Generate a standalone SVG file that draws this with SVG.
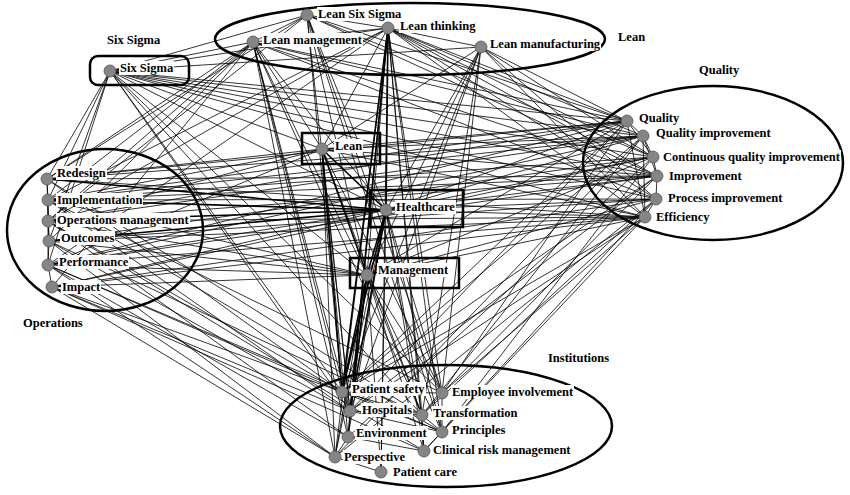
<svg xmlns="http://www.w3.org/2000/svg" width="850" height="495" viewBox="0 0 850 495">
<style>
.e line{stroke:#000;stroke-width:0.8;fill:none}
.e line.t{stroke-width:1.6}
.grp{fill:none;stroke:#000;stroke-width:2.5}
.nd{fill:#858585;stroke:#555;stroke-width:0.8}
.lb{fill:#fff;stroke:none}
text{font-family:"Liberation Serif","Times New Roman",serif;font-weight:bold;font-size:12.5px;fill:#000}
</style>
<rect width="850" height="495" fill="#fff"/>
<g id="connectors" class="e">
<line x1="47" y1="179" x2="48" y2="200"/>
<line x1="48" y1="200" x2="48" y2="221"/>
<line x1="48" y1="221" x2="49" y2="241"/>
<line x1="49" y1="241" x2="48" y2="265"/>
<line x1="48" y1="265" x2="52" y2="287"/>
<line x1="47" y1="179" x2="48" y2="221"/>
<line x1="48" y1="200" x2="49" y2="241"/>
<line x1="48" y1="221" x2="48" y2="265"/>
<line x1="627" y1="121" x2="643" y2="136"/>
<line x1="643" y1="136" x2="653" y2="157"/>
<line x1="653" y1="157" x2="657" y2="176"/>
<line x1="657" y1="176" x2="656" y2="199"/>
<line x1="656" y1="199" x2="645" y2="217"/>
<line x1="627" y1="121" x2="653" y2="157"/>
<line x1="643" y1="136" x2="657" y2="176"/>
<line x1="643" y1="136" x2="645" y2="217"/>
<line x1="627" y1="121" x2="645" y2="217"/>
<line x1="342" y1="392" x2="350" y2="411"/>
<line x1="350" y1="411" x2="348" y2="437"/>
<line x1="348" y1="437" x2="335" y2="457"/>
<line x1="335" y1="457" x2="381" y2="472"/>
<line x1="342" y1="392" x2="442" y2="393"/>
<line x1="442" y1="393" x2="422" y2="415"/>
<line x1="422" y1="415" x2="442" y2="432"/>
<line x1="442" y1="432" x2="424" y2="451"/>
<line x1="350" y1="411" x2="422" y2="415"/>
<line x1="350" y1="411" x2="442" y2="432"/>
<line x1="348" y1="437" x2="424" y2="451"/>
<line x1="342" y1="392" x2="422" y2="415"/>
<line x1="442" y1="393" x2="442" y2="432"/>
<line x1="422" y1="415" x2="424" y2="451"/>
<line x1="342" y1="392" x2="442" y2="432"/>
<line x1="322" y1="149" x2="386" y2="210" class="t"/>
<line x1="386" y1="210" x2="367" y2="275" class="t"/>
<line x1="322" y1="149" x2="367" y2="275" class="t"/>
<line x1="47" y1="179" x2="627" y2="121"/>
<line x1="47" y1="179" x2="643" y2="136"/>
<line x1="47" y1="179" x2="657" y2="176"/>
<line x1="47" y1="179" x2="645" y2="217"/>
<line x1="48" y1="200" x2="627" y2="121"/>
<line x1="48" y1="200" x2="653" y2="157"/>
<line x1="48" y1="200" x2="657" y2="176"/>
<line x1="48" y1="200" x2="656" y2="199"/>
<line x1="48" y1="200" x2="643" y2="136"/>
<line x1="48" y1="221" x2="643" y2="136"/>
<line x1="48" y1="221" x2="657" y2="176"/>
<line x1="48" y1="221" x2="645" y2="217"/>
<line x1="48" y1="221" x2="627" y2="121"/>
<line x1="49" y1="241" x2="653" y2="157"/>
<line x1="49" y1="241" x2="656" y2="199"/>
<line x1="49" y1="241" x2="645" y2="217"/>
<line x1="48" y1="265" x2="643" y2="136"/>
<line x1="48" y1="265" x2="657" y2="176"/>
<line x1="48" y1="265" x2="645" y2="217"/>
<line x1="48" y1="265" x2="627" y2="121"/>
<line x1="52" y1="287" x2="653" y2="157"/>
<line x1="52" y1="287" x2="656" y2="199"/>
<line x1="52" y1="287" x2="645" y2="217"/>
<line x1="47" y1="179" x2="386" y2="210" class="t"/>
<line x1="48" y1="200" x2="386" y2="210" class="t"/>
<line x1="48" y1="221" x2="386" y2="210" class="t"/>
<line x1="49" y1="241" x2="386" y2="210" class="t"/>
<line x1="48" y1="265" x2="386" y2="210"/>
<line x1="52" y1="287" x2="386" y2="210"/>
<line x1="47" y1="179" x2="322" y2="149"/>
<line x1="48" y1="200" x2="322" y2="149"/>
<line x1="48" y1="221" x2="322" y2="149"/>
<line x1="48" y1="265" x2="322" y2="149"/>
<line x1="48" y1="200" x2="367" y2="275"/>
<line x1="48" y1="221" x2="367" y2="275"/>
<line x1="49" y1="241" x2="367" y2="275"/>
<line x1="48" y1="265" x2="367" y2="275"/>
<line x1="52" y1="287" x2="367" y2="275"/>
<line x1="47" y1="179" x2="342" y2="392"/>
<line x1="47" y1="179" x2="422" y2="415"/>
<line x1="48" y1="200" x2="350" y2="411"/>
<line x1="48" y1="200" x2="442" y2="393"/>
<line x1="48" y1="200" x2="442" y2="432"/>
<line x1="48" y1="221" x2="342" y2="392"/>
<line x1="48" y1="221" x2="348" y2="437"/>
<line x1="48" y1="221" x2="424" y2="451"/>
<line x1="49" y1="241" x2="350" y2="411"/>
<line x1="49" y1="241" x2="422" y2="415"/>
<line x1="49" y1="241" x2="335" y2="457"/>
<line x1="48" y1="265" x2="342" y2="392"/>
<line x1="48" y1="265" x2="348" y2="437"/>
<line x1="48" y1="265" x2="442" y2="432"/>
<line x1="48" y1="265" x2="335" y2="457"/>
<line x1="52" y1="287" x2="350" y2="411"/>
<line x1="52" y1="287" x2="424" y2="451"/>
<line x1="52" y1="287" x2="335" y2="457"/>
<line x1="52" y1="287" x2="342" y2="392"/>
<line x1="47" y1="179" x2="253" y2="42"/>
<line x1="47" y1="179" x2="307" y2="15"/>
<line x1="48" y1="200" x2="388" y2="28"/>
<line x1="48" y1="200" x2="253" y2="42"/>
<line x1="48" y1="221" x2="307" y2="15"/>
<line x1="48" y1="221" x2="388" y2="28"/>
<line x1="49" y1="241" x2="253" y2="42"/>
<line x1="48" y1="265" x2="388" y2="28"/>
<line x1="110" y1="71" x2="627" y2="121"/>
<line x1="110" y1="71" x2="643" y2="136"/>
<line x1="110" y1="71" x2="653" y2="157"/>
<line x1="110" y1="71" x2="657" y2="176"/>
<line x1="110" y1="71" x2="656" y2="199"/>
<line x1="110" y1="71" x2="645" y2="217"/>
<line x1="110" y1="71" x2="388" y2="28"/>
<line x1="110" y1="71" x2="253" y2="42"/>
<line x1="110" y1="71" x2="481" y2="47"/>
<line x1="110" y1="71" x2="307" y2="15"/>
<line x1="110" y1="71" x2="386" y2="210"/>
<line x1="110" y1="71" x2="322" y2="149"/>
<line x1="110" y1="71" x2="367" y2="275"/>
<line x1="110" y1="71" x2="342" y2="392"/>
<line x1="110" y1="71" x2="350" y2="411"/>
<line x1="110" y1="71" x2="422" y2="415"/>
<line x1="110" y1="71" x2="442" y2="393"/>
<line x1="110" y1="71" x2="47" y2="179"/>
<line x1="110" y1="71" x2="48" y2="200"/>
<line x1="110" y1="71" x2="49" y2="241"/>
<line x1="110" y1="71" x2="48" y2="265"/>
<line x1="307" y1="15" x2="627" y2="121"/>
<line x1="307" y1="15" x2="653" y2="157"/>
<line x1="307" y1="15" x2="657" y2="176"/>
<line x1="388" y1="28" x2="627" y2="121"/>
<line x1="388" y1="28" x2="643" y2="136"/>
<line x1="388" y1="28" x2="653" y2="157"/>
<line x1="388" y1="28" x2="657" y2="176"/>
<line x1="388" y1="28" x2="656" y2="199"/>
<line x1="388" y1="28" x2="645" y2="217"/>
<line x1="253" y1="42" x2="643" y2="136"/>
<line x1="253" y1="42" x2="657" y2="176"/>
<line x1="253" y1="42" x2="656" y2="199"/>
<line x1="253" y1="42" x2="627" y2="121"/>
<line x1="481" y1="47" x2="627" y2="121"/>
<line x1="481" y1="47" x2="653" y2="157"/>
<line x1="481" y1="47" x2="656" y2="199"/>
<line x1="481" y1="47" x2="645" y2="217"/>
<line x1="388" y1="28" x2="342" y2="392" class="t"/>
<line x1="388" y1="28" x2="350" y2="411" class="t"/>
<line x1="388" y1="28" x2="348" y2="437"/>
<line x1="388" y1="28" x2="335" y2="457"/>
<line x1="388" y1="28" x2="442" y2="393"/>
<line x1="388" y1="28" x2="422" y2="415"/>
<line x1="388" y1="28" x2="442" y2="432"/>
<line x1="388" y1="28" x2="424" y2="451"/>
<line x1="388" y1="28" x2="381" y2="472"/>
<line x1="253" y1="42" x2="342" y2="392"/>
<line x1="253" y1="42" x2="350" y2="411"/>
<line x1="253" y1="42" x2="348" y2="437"/>
<line x1="253" y1="42" x2="422" y2="415"/>
<line x1="253" y1="42" x2="335" y2="457"/>
<line x1="307" y1="15" x2="342" y2="392"/>
<line x1="307" y1="15" x2="350" y2="411"/>
<line x1="307" y1="15" x2="442" y2="393"/>
<line x1="307" y1="15" x2="442" y2="432"/>
<line x1="481" y1="47" x2="342" y2="392"/>
<line x1="481" y1="47" x2="442" y2="393"/>
<line x1="481" y1="47" x2="350" y2="411"/>
<line x1="481" y1="47" x2="422" y2="415"/>
<line x1="388" y1="28" x2="386" y2="210" class="t"/>
<line x1="388" y1="28" x2="322" y2="149"/>
<line x1="388" y1="28" x2="367" y2="275"/>
<line x1="253" y1="42" x2="386" y2="210"/>
<line x1="253" y1="42" x2="322" y2="149"/>
<line x1="253" y1="42" x2="367" y2="275"/>
<line x1="307" y1="15" x2="386" y2="210"/>
<line x1="307" y1="15" x2="367" y2="275"/>
<line x1="481" y1="47" x2="386" y2="210"/>
<line x1="481" y1="47" x2="367" y2="275"/>
<line x1="481" y1="47" x2="322" y2="149"/>
<line x1="307" y1="15" x2="253" y2="42"/>
<line x1="307" y1="15" x2="388" y2="28"/>
<line x1="253" y1="42" x2="388" y2="28"/>
<line x1="388" y1="28" x2="481" y2="47"/>
<line x1="253" y1="42" x2="52" y2="287"/>
<line x1="253" y1="42" x2="48" y2="221"/>
<line x1="627" y1="121" x2="386" y2="210"/>
<line x1="643" y1="136" x2="386" y2="210"/>
<line x1="653" y1="157" x2="386" y2="210"/>
<line x1="657" y1="176" x2="386" y2="210"/>
<line x1="656" y1="199" x2="386" y2="210"/>
<line x1="645" y1="217" x2="386" y2="210"/>
<line x1="627" y1="121" x2="322" y2="149"/>
<line x1="643" y1="136" x2="322" y2="149"/>
<line x1="657" y1="176" x2="322" y2="149"/>
<line x1="645" y1="217" x2="322" y2="149"/>
<line x1="627" y1="121" x2="367" y2="275"/>
<line x1="653" y1="157" x2="367" y2="275"/>
<line x1="656" y1="199" x2="367" y2="275"/>
<line x1="645" y1="217" x2="367" y2="275"/>
<line x1="627" y1="121" x2="342" y2="392"/>
<line x1="627" y1="121" x2="442" y2="393"/>
<line x1="627" y1="121" x2="350" y2="411"/>
<line x1="643" y1="136" x2="422" y2="415"/>
<line x1="643" y1="136" x2="342" y2="392"/>
<line x1="653" y1="157" x2="442" y2="432"/>
<line x1="653" y1="157" x2="348" y2="437"/>
<line x1="657" y1="176" x2="342" y2="392"/>
<line x1="657" y1="176" x2="442" y2="393"/>
<line x1="657" y1="176" x2="350" y2="411"/>
<line x1="656" y1="199" x2="424" y2="451"/>
<line x1="656" y1="199" x2="335" y2="457"/>
<line x1="656" y1="199" x2="422" y2="415"/>
<line x1="645" y1="217" x2="342" y2="392"/>
<line x1="645" y1="217" x2="442" y2="393"/>
<line x1="645" y1="217" x2="350" y2="411"/>
<line x1="645" y1="217" x2="442" y2="432"/>
<line x1="643" y1="136" x2="335" y2="457"/>
<line x1="386" y1="210" x2="342" y2="392" class="t"/>
<line x1="386" y1="210" x2="350" y2="411" class="t"/>
<line x1="386" y1="210" x2="348" y2="437"/>
<line x1="386" y1="210" x2="335" y2="457"/>
<line x1="386" y1="210" x2="442" y2="393"/>
<line x1="386" y1="210" x2="422" y2="415"/>
<line x1="386" y1="210" x2="442" y2="432"/>
<line x1="386" y1="210" x2="424" y2="451"/>
<line x1="386" y1="210" x2="381" y2="472"/>
<line x1="322" y1="149" x2="342" y2="392" class="t"/>
<line x1="322" y1="149" x2="350" y2="411"/>
<line x1="322" y1="149" x2="348" y2="437"/>
<line x1="322" y1="149" x2="335" y2="457"/>
<line x1="322" y1="149" x2="422" y2="415"/>
<line x1="322" y1="149" x2="442" y2="393"/>
<line x1="367" y1="275" x2="342" y2="392" class="t"/>
<line x1="367" y1="275" x2="350" y2="411" class="t"/>
<line x1="367" y1="275" x2="348" y2="437"/>
<line x1="367" y1="275" x2="335" y2="457"/>
<line x1="367" y1="275" x2="442" y2="393"/>
<line x1="367" y1="275" x2="422" y2="415"/>
<line x1="367" y1="275" x2="442" y2="432"/>
<line x1="367" y1="275" x2="424" y2="451"/>
<line x1="367" y1="275" x2="381" y2="472"/>
</g>
<g id="clusters">
<ellipse id="c-lean" class="grp" cx="410" cy="39" rx="195" ry="36"/>
<rect id="c-sixsigma" class="grp" x="90" y="56" width="99" height="29" rx="8"/>
<ellipse id="c-operations" class="grp" cx="105" cy="230" rx="98" ry="81"/>
<ellipse id="c-quality" class="grp" cx="713" cy="163" rx="130" ry="77"/>
<ellipse id="c-institutions" class="grp" cx="446" cy="426" rx="166" ry="61"/>
<rect id="b-lean" class="grp" x="302" y="133" width="78" height="31"/>
<rect id="b-healthcare" class="grp" x="370" y="190" width="93" height="37"/>
<rect id="b-management" class="grp" x="350" y="258" width="109" height="30"/>
<text x="107" y="44">Six Sigma</text>
<text x="618" y="41">Lean</text>
<text x="699" y="74">Quality</text>
<text x="23" y="327">Operations</text>
<text x="548" y="362">Institutions</text>
</g>
<g id="nodes">
<g id="n-lean-six-sigma"><rect class="lb" x="317" y="7" width="85" height="14"/><circle class="nd" cx="307" cy="15" r="6"/><text x="318" y="18">Lean Six Sigma</text></g>
<g id="n-lean-thinking"><rect class="lb" x="399" y="19" width="77" height="14"/><circle class="nd" cx="388" cy="28" r="6"/><text x="400" y="30">Lean thinking</text></g>
<g id="n-lean-management"><rect class="lb" x="262" y="33" width="101" height="14"/><circle class="nd" cx="253" cy="42" r="6"/><text x="263" y="44">Lean management</text></g>
<g id="n-lean-manufacturing"><rect class="lb" x="489" y="37" width="112" height="14"/><circle class="nd" cx="481" cy="47" r="6"/><text x="490" y="48">Lean manufacturing</text></g>
<g id="n-six-sigma"><rect class="lb" x="119" y="61" width="55" height="14"/><circle class="nd" cx="110" cy="71" r="6"/><text x="120" y="72">Six Sigma</text></g>
<g id="n-lean"><rect class="lb" x="334" y="139" width="29" height="14"/><circle class="nd" cx="322" cy="149" r="6"/><text x="335" y="150">Lean</text></g>
<g id="n-healthcare"><rect class="lb" x="395" y="200" width="61" height="14"/><circle class="nd" cx="386" cy="210" r="6"/><text x="396" y="211">Healthcare</text></g>
<g id="n-management"><rect class="lb" x="377" y="263" width="72" height="14"/><circle class="nd" cx="367" cy="275" r="6"/><text x="378" y="274">Management</text></g>
<g id="n-redesign"><rect class="lb" x="56" y="166" width="51" height="14"/><circle class="nd" cx="47" cy="179" r="6"/><text x="57" y="177">Redesign</text></g>
<g id="n-implementation"><rect class="lb" x="56" y="193" width="87" height="14"/><circle class="nd" cx="48" cy="200" r="6"/><text x="57" y="204">Implementation</text></g>
<g id="n-operations-management"><rect class="lb" x="56" y="213" width="134" height="14"/><circle class="nd" cx="48" cy="221" r="6"/><text x="57" y="224">Operations management</text></g>
<g id="n-outcomes"><rect class="lb" x="60" y="231" width="55" height="14"/><circle class="nd" cx="49" cy="241" r="6"/><text x="61" y="242">Outcomes</text></g>
<g id="n-performance"><rect class="lb" x="58" y="255" width="71" height="14"/><circle class="nd" cx="48" cy="265" r="6"/><text x="59" y="266">Performance</text></g>
<g id="n-impact"><rect class="lb" x="61" y="280" width="40" height="14"/><circle class="nd" cx="52" cy="287" r="6"/><text x="62" y="291">Impact</text></g>
<g id="n-quality"><rect class="lb" x="638" y="111" width="42" height="14"/><circle class="nd" cx="627" cy="121" r="6"/><text x="639" y="122">Quality</text></g>
<g id="n-quality-improvement"><rect class="lb" x="655" y="126" width="117" height="14"/><circle class="nd" cx="643" cy="136" r="6"/><text x="656" y="137">Quality improvement</text></g>
<g id="n-continuous-quality-improvement"><rect class="lb" x="662" y="150" width="179" height="14"/><circle class="nd" cx="653" cy="157" r="6"/><text x="663" y="161">Continuous quality improvement</text></g>
<g id="n-improvement"><rect class="lb" x="668" y="169" width="75" height="14"/><circle class="nd" cx="657" cy="176" r="6"/><text x="669" y="180">Improvement</text></g>
<g id="n-process-improvement"><rect class="lb" x="667" y="191" width="117" height="14"/><circle class="nd" cx="656" cy="199" r="6"/><text x="668" y="202">Process improvement</text></g>
<g id="n-efficiency"><rect class="lb" x="655" y="210" width="55" height="14"/><circle class="nd" cx="645" cy="217" r="6"/><text x="656" y="221">Efficiency</text></g>
<g id="n-patient-safety"><rect class="lb" x="351" y="382" width="75" height="14"/><circle class="nd" cx="342" cy="392" r="6"/><text x="352" y="393">Patient safety</text></g>
<g id="n-employee-involvement"><rect class="lb" x="451" y="385" width="123" height="14"/><circle class="nd" cx="442" cy="393" r="6"/><text x="452" y="396">Employee involvement</text></g>
<g id="n-hospitals"><rect class="lb" x="361" y="403" width="52" height="14"/><circle class="nd" cx="350" cy="411" r="6"/><text x="362" y="414">Hospitals</text></g>
<g id="n-transformation"><rect class="lb" x="432" y="406" width="87" height="14"/><circle class="nd" cx="422" cy="415" r="6"/><text x="433" y="417">Transformation</text></g>
<g id="n-environment"><rect class="lb" x="355" y="426" width="73" height="14"/><circle class="nd" cx="348" cy="437" r="6"/><text x="356" y="437">Environment</text></g>
<g id="n-principles"><rect class="lb" x="451" y="423" width="55" height="14"/><circle class="nd" cx="442" cy="432" r="6"/><text x="452" y="434">Principles</text></g>
<g id="n-clinical-risk-management"><rect class="lb" x="432" y="443" width="139" height="14"/><circle class="nd" cx="424" cy="451" r="6"/><text x="433" y="454">Clinical risk management</text></g>
<g id="n-perspective"><rect class="lb" x="343" y="450" width="63" height="14"/><circle class="nd" cx="335" cy="457" r="6"/><text x="344" y="461">Perspective</text></g>
<g id="n-patient-care"><rect class="lb" x="392" y="465" width="66" height="14"/><circle class="nd" cx="381" cy="472" r="6"/><text x="393" y="476">Patient care</text></g>
</g>
</svg>
